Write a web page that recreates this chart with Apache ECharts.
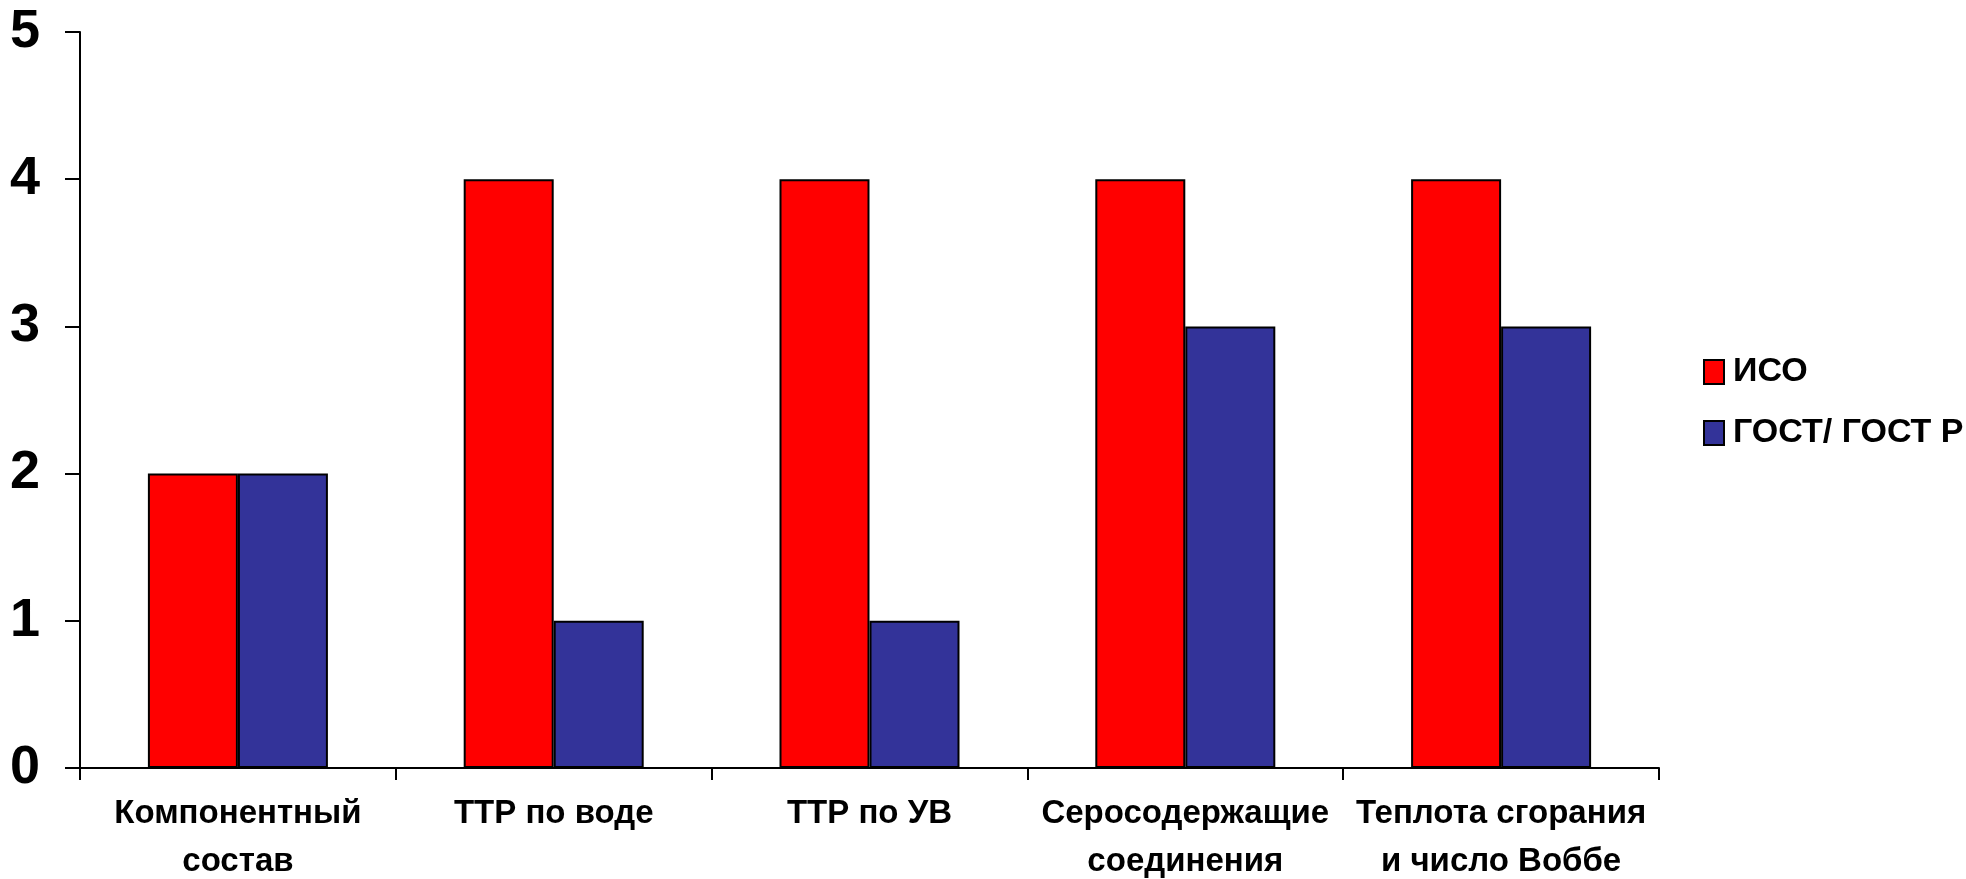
<!DOCTYPE html>
<html>
<head>
<meta charset="utf-8">
<script src="https://cdn.jsdelivr.net/npm/echarts@6/dist/echarts.min.js"></script>
<style>
html,body{margin:0;padding:0;background:#fff;overflow:hidden;}
#c{width:1966px;height:879px;}
</style>
</head>
<body>
<div id="c"></div>
<script>
const categories = ['Компонентный\nсостав', 'ТТР по воде', 'ТТР по УВ', 'Серосодержащие\nсоединения', 'Теплота сгорания\nи число Воббе'];
const seriesNames = ['ИСО', 'ГОСТ/ ГОСТ Р'];
const isoValues = [2, 4, 4, 4, 4];
const gostValues = [2, 1, 1, 3, 3];
const yTicks = [0, 1, 2, 3, 4, 5];

const FONT = "'Liberation Sans Narrow', 'Arial Narrow', 'Liberation Sans', Arial, sans-serif";
const chart = echarts.init(document.getElementById('c'));
chart.setOption({
  animation: false,
  backgroundColor: '#fff',
  grid: { left: 80, right: 307, top: 32, bottom: 111, containLabel: false, outerBoundsMode: 'none' },
  legend: {
    orient: 'vertical',
    left: 1698,
    top: 346,
    itemWidth: 20,
    itemHeight: 24,
    itemGap: 19,
    icon: 'rect',
    textStyle: { fontFamily: FONT, fontWeight: 'bold', fontSize: 34, color: '#000', lineHeight: 42, padding: [0,0,0,4] },
    data: seriesNames
  },
  xAxis: {
    type: 'category',
    data: categories,
    axisLine: { lineStyle: { color: '#000', width: 2 } },
    axisTick: { show: true, length: 12, lineStyle: { color: '#000', width: 2 } },
    axisLabel: { interval: 0, margin: 22, fontFamily: FONT, fontWeight: 'bold', fontSize: 33, lineHeight: 48, color: '#000' }
  },
  yAxis: {
    type: 'value',
    min: yTicks[0],
    max: yTicks[yTicks.length - 1],
    interval: 1,
    splitLine: { show: false },
    axisLine: { show: true, lineStyle: { color: '#000', width: 2 } },
    axisTick: { show: true, length: 15, lineStyle: { color: '#000', width: 2 } },
    axisLabel: { margin: 40, fontFamily: FONT, fontWeight: 'bold', fontSize: 54, color: '#000' }
  },
  series: [
    {
      name: seriesNames[0], type: 'bar', data: isoValues,
      barGap: '0%', barCategoryGap: '43%',
      itemStyle: { color: '#FF0000', borderColor: '#000', borderWidth: 2 }
    },
    {
      name: seriesNames[1], type: 'bar', data: gostValues,
      barGap: '0%', barCategoryGap: '43%',
      itemStyle: { color: '#333399', borderColor: '#000', borderWidth: 2 }
    }
  ]
});
</script>
</body>
</html>
